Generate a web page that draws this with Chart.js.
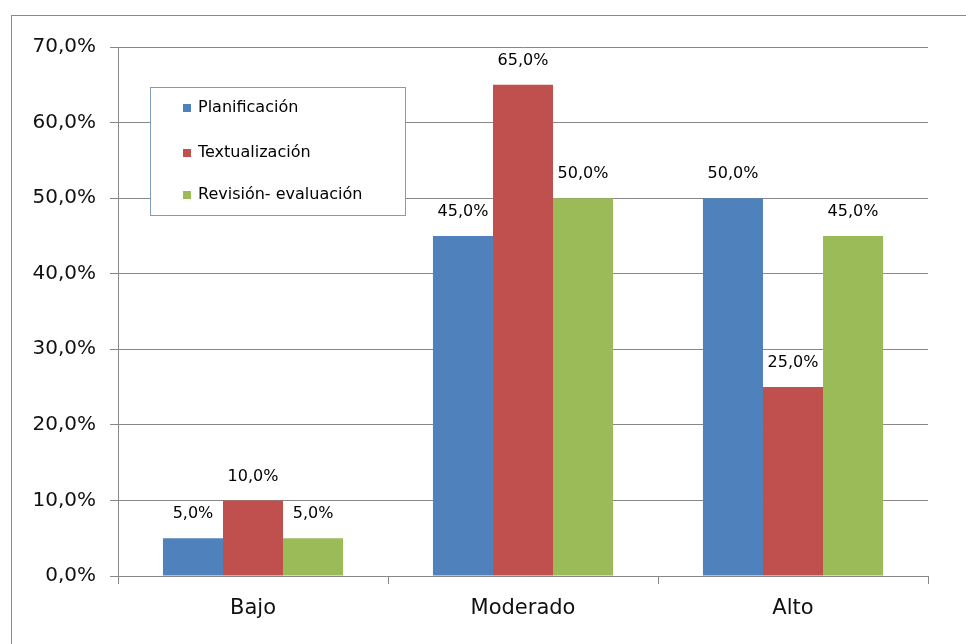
<!DOCTYPE html>
<html>
<head>
<meta charset="utf-8">
<script src="https://cdn.jsdelivr.net/npm/chart.js@4.4.0/dist/chart.umd.min.js"></script>
<style>
  html, body { margin: 0; padding: 0; background: #fff; overflow: hidden; }
  #wrap { position: relative; width: 966px; height: 644px; overflow: hidden; }
  #frame { position: absolute; left: 11px; top: 15px; width: 980px; height: 660px;
           border-top: 1px solid #8a8a8a; border-left: 1px solid #8a8a8a; pointer-events: none; }
  canvas { position: absolute; left: 0; top: 0; }
</style>
</head>
<body>
<div id="wrap">
  <canvas id="chart" width="966" height="644"></canvas>
  <div id="frame"></div>
</div>
<script>
// Chart data
const categories = ['Bajo', 'Moderado', 'Alto'];
const seriesNames = ['Planificación', 'Textualización', 'Revisión- evaluación'];
const planificacion = [0.05, 0.45, 0.50];
const textualizacion = [0.10, 0.65, 0.25];
const revision = [0.05, 0.50, 0.45];
const seriesColors = ['#4f81bd', '#c0504d', '#9bbb59'];

const FONT = '"DejaVu Sans", sans-serif';

function pct(v) {
    return (v * 100).toFixed(1).replace('.', ',') + '%';
}

// value labels above each bar
const barLabels = {
    id: 'barLabels',
    afterDatasetsDraw(chart) {
        const ctx = chart.ctx;
        ctx.save();
        ctx.font = '16px ' + FONT;
        ctx.fillStyle = '#000';
        ctx.textAlign = 'center';
        ctx.textBaseline = 'middle';
        chart.data.datasets.forEach((ds, i) => {
            chart.getDatasetMeta(i).data.forEach((bar, j) => {
                ctx.fillText(pct(ds.data[j]), bar.x, bar.y - 24);
            });
        });
        ctx.restore();
    }
};

// legend box inside the plot
const boxLegend = {
    id: 'boxLegend',
    afterDraw(chart) {
        const ctx = chart.ctx;
        ctx.save();
        ctx.fillStyle = '#fff';
        ctx.fillRect(150, 87, 255, 128);
        ctx.strokeStyle = '#7f9db9';
        ctx.lineWidth = 1;
        ctx.strokeRect(150.5, 87.5, 255, 128);
        ctx.font = '16px ' + FONT;
        ctx.textBaseline = 'middle';
        const rows = [108, 153, 195];
        chart.data.datasets.forEach((ds, i) => {
            ctx.fillStyle = ds.backgroundColor;
            ctx.fillRect(183, rows[i] - 4, 8, 8);
            ctx.fillStyle = '#000';
            ctx.fillText(ds.label, 198, rows[i]);
        });
        ctx.restore();
    }
};

new Chart(document.getElementById('chart'), {
    type: 'bar',
    data: {
        labels: categories,
        datasets: [
            { label: seriesNames[0], data: planificacion, backgroundColor: seriesColors[0] },
            { label: seriesNames[1], data: textualizacion, backgroundColor: seriesColors[1] },
            { label: seriesNames[2], data: revision, backgroundColor: seriesColors[2] }
        ]
    },
    options: {
        responsive: false,
        animation: false,
        layout: { padding: { top: 47, right: 38, left: 0, bottom: 0 } },
        datasets: { bar: { categoryPercentage: 0.667, barPercentage: 1.0 } },
        plugins: {
            legend: { display: false },
            tooltip: { enabled: false }
        },
        scales: {
            y: {
                min: 0,
                max: 0.7,
                afterFit: s => { s.width = 118; },
                ticks: {
                    stepSize: 0.1,
                    callback: v => pct(v),
                    font: { family: FONT, size: 20 },
                    color: '#111',
                    padding: 14
                },
                grid: { color: '#888', tickLength: 8 },
                border: { color: '#888' }
            },
            x: {
                afterFit: s => { s.height = 68; },
                ticks: {
                    font: { family: FONT, size: 21 },
                    color: '#111',
                    padding: 12
                },
                grid: { color: '#888', drawOnChartArea: false, tickLength: 8, offset: true },
                border: { color: '#888' }
            }
        }
    },
    plugins: [barLabels, boxLegend]
});
</script>
</body>
</html>
